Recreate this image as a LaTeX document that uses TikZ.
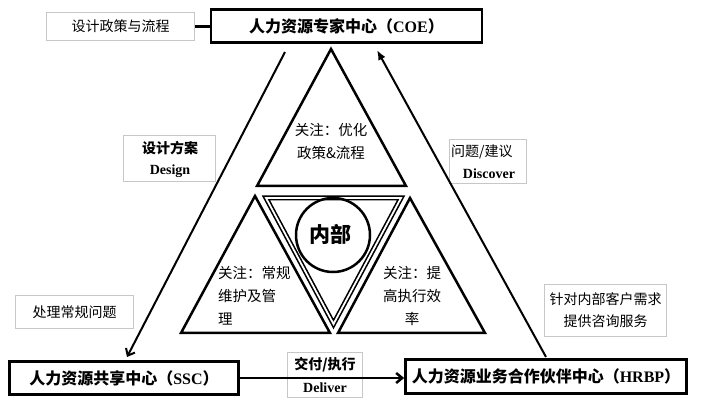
\documentclass[tikz,border=0pt]{standalone}
\usepackage{fontspec}
\setmainfont{Liberation Serif}
\newfontfamily\cjk{Noto Sans CJK SC}
\usetikzlibrary{arrows.meta}
\begin{document}
\begin{tikzpicture}[x=1pt,y=-1pt,
  hub/.style={draw, line width=2.8pt, inner sep=0pt, font=\cjk\bfseries\fontsize{16}{18}\selectfont},
  note/.style={draw=black!22, line width=0.9pt, inner sep=0pt, font=\cjk\fontsize{14}{22}\selectfont},
  lbl/.style={inner sep=0pt, font=\cjk\fontsize{14}{22}\selectfont},
  elbl/.style={inner sep=0pt, font=\bfseries\fontsize{14}{22}\selectfont},
  tri/.style={draw, line width=2.5pt, line join=miter, fill=white},
  tritxt/.style={inner sep=0pt, font=\cjk\fontsize{14.5}{23}\selectfont},
  link/.style={line width=2pt}
]
\useasboundingbox (0,0) rectangle (717,419);

% hubs
\node[hub, minimum width=271pt, minimum height=33pt] (coe) at (346.5,26) {人力资源专家中心（{\rmfamily\bfseries COE}）};
\node[hub, minimum width=229pt, minimum height=33pt] (ssc) at (124,378) {人力资源共享中心（{\rmfamily\bfseries SSC}）};
\node[hub, minimum width=281pt, minimum height=34pt] (hrbp) at (546,376.5) {人力资源业务合作伙伴中心（{\rmfamily\bfseries HRBP}）};

% note boxes
\node[note, minimum width=148pt, minimum height=28pt] (pol) at (120.5,26.5) {设计政策与流程};
\node[note, minimum width=92pt, minimum height=46pt] (design) at (169.5,158.5) {};
\node[note, minimum width=77pt, minimum height=44pt] (disc) at (488,161.5) {};
\node[note, minimum width=75pt, minimum height=45pt] (deliv) at (325,375) {};
\node[note, minimum width=122pt, minimum height=52pt, align=center] (cons) at (605.5,310.5) {针对内部客户需求\\提供咨询服务};
\node[note, minimum width=118pt, minimum height=33pt] (routine) at (74.5,312) {处理常规问题};

\node[lbl, font=\cjk\bfseries\fontsize{14}{22}\selectfont] (designzh) at (170,148) {设计方案};
\node[elbl] (designen) at (170,171) {Design};
\node[lbl, anchor=west] (disczh) at (451,152) {问题/建议};
\node[elbl] (discen) at (489,174) {Discover};
\node[lbl, font=\cjk\bfseries\fontsize{14}{22}\selectfont] (delivzh) at (325,365) {交付/执行};
\node[elbl] (deliven) at (325,388) {Deliver};

% triangles
\draw[tri] (331,49) -- (406,186) -- (257,186) -- cycle;
\draw[tri] (255,196) -- (330,333) -- (181,333) -- cycle;
\draw[tri] (410,198) -- (485,333) -- (338,333) -- cycle;
\draw[draw=black, double=white, double distance=1.8pt, line width=1.6pt, line join=miter]
  (266,198) -- (401,198) -- (333.5,324) -- cycle;
\draw[line width=2.5pt] (333,235) circle (37);
\node[inner sep=0pt, font=\cjk\bfseries\fontsize{21}{24}\selectfont] (inner) at (330,234) {内部};

\node[tritxt, align=center] (toptxt) at (331,141) {关注：优化\\政策\&流程};
\node[tritxt, align=left, anchor=north west] (lefttxt) at (218,266) {关注：常规\\维护及管\\理};
\node[tritxt, align=center, anchor=north] (righttxt) at (412,266) {关注：提\\高执行效\\率};

% connectors
\coordinate (lt) at (285,52);
\coordinate (lb) at (127,357);
\coordinate (rb) at (546,357);
\coordinate (rt) at (377,50);
\draw[link, -{Straight Barb[length=6pt,width=10pt]}] (lt) -- (lb);
\draw[link, -{Latex[length=10pt,width=8pt]}] (rb) -- (rt);
\draw[line width=2.5pt] (pol.east) -- (pol.east -| coe.west);
\draw[line width=2.5pt, -{Straight Barb[length=6pt,width=10pt]}] (ssc.east) -- (ssc.east -| hrbp.west);
\end{tikzpicture}
\end{document}
